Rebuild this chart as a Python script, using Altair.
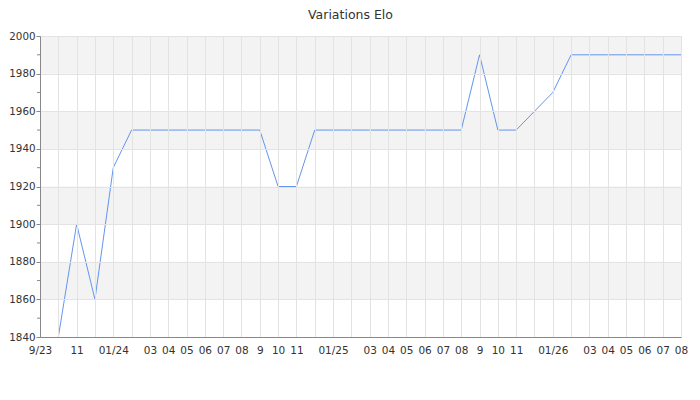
import json
import altair as alt
import pandas as pd

months = [
    "2023-09", "2023-10", "2023-11", "2023-12",
    "2024-01", "2024-02", "2024-03", "2024-04", "2024-05", "2024-06",
    "2024-07", "2024-08", "2024-09", "2024-10", "2024-11", "2024-12",
    "2025-01", "2025-02", "2025-03", "2025-04", "2025-05", "2025-06",
    "2025-07", "2025-08", "2025-09", "2025-10", "2025-11", "2025-12",
    "2026-01", "2026-02", "2026-03", "2026-04", "2026-05", "2026-06",
    "2026-07", "2026-08",
]
tick_labels = [
    "9/23", "", "11", "",
    "01/24", "", "03", "04", "05", "06", "07", "08", "9", "10", "11", "",
    "01/25", "", "03", "04", "05", "06", "07", "08", "9", "10", "11", "",
    "01/26", "", "03", "04", "05", "06", "07", "08",
]

elo_months = [
    "2023-10", "2023-11", "2023-12",
    "2024-01", "2024-02", "2024-03", "2024-04", "2024-05", "2024-06",
    "2024-07", "2024-08", "2024-09", "2024-10", "2024-11", "2024-12",
    "2025-01", "2025-02", "2025-03", "2025-04", "2025-05", "2025-06",
    "2025-07", "2025-08", "2025-09", "2025-10", "2025-11",
    "2026-01", "2026-02", "2026-03", "2026-04", "2026-05", "2026-06",
    "2026-07", "2026-08",
]
elo_values = [
    1840, 1900, 1860,
    1930, 1950, 1950, 1950, 1950, 1950,
    1950, 1950, 1950, 1920, 1920, 1950,
    1950, 1950, 1950, 1950, 1950, 1950,
    1950, 1950, 1990, 1950, 1950,
    1970, 1990, 1990, 1990, 1990, 1990,
    1990, 1990,
]

band_starts = [1860, 1900, 1940, 1980]
band_ends = [1880, 1920, 1960, 2000]
y_major = [1840, 1860, 1880, 1900, 1920, 1940, 1960, 1980, 2000]
y_minor = [1850, 1870, 1890, 1910, 1930, 1950, 1970, 1990]

df = pd.DataFrame({"month": elo_months, "elo": elo_values})
bands = pd.DataFrame({"y0": band_starts, "y1": band_ends})
minor = pd.DataFrame({"v": y_minor})

FONT = "DejaVu Sans"
label_expr = f"{json.dumps(tick_labels)}[indexof({json.dumps(months)}, datum.value)]"

yscale = alt.Scale(domain=[1840, 2000], nice=False, zero=False)
y_axis = alt.Axis(
    values=y_major,
    format="d",
    labelOverlap=False,
    labelFont=FONT,
    labelFontSize=10.3,
    labelColor="#333333",
    labelPadding=1,
    tickSize=4,
    tickColor="#888888",
    domainColor="#888888",
    grid=True,
    gridColor="#e3e3e3",
    zindex=1,
)

band_layer = alt.Chart(bands).mark_rect(color="#f3f3f3").encode(
    y=alt.Y("y0:Q", scale=yscale, title=None, axis=y_axis),
    y2="y1:Q",
)

minor_layer = alt.Chart(minor).mark_rule(color="#888888", strokeWidth=1).encode(
    y=alt.Y("v:Q", scale=yscale, title=None, axis=y_axis),
    x=alt.value(-3),
    x2=alt.value(0),
)

line_layer = alt.Chart(df).mark_line(color="#6495ed", strokeWidth=1).encode(
    x=alt.X(
        "month:O",
        scale=alt.Scale(type="point", domain=months, padding=0),
        sort=months,
        title=None,
        axis=alt.Axis(
            labelExpr=label_expr,
            labelAngle=0,
            labelOverlap=False,
            labelFont=FONT,
            labelFontSize=10.5,
            labelColor="#333333",
            labelPadding=8,
            tickSize=0,
            grid=True,
            gridColor="#e3e3e3",
            domainColor="#888888",
            zindex=1,
        ),
    ),
    y=alt.Y("elo:Q", scale=yscale, title=None, axis=y_axis),
)

chart = alt.layer(band_layer, minor_layer, line_layer).properties(
    width=641,
    height=301,
    autosize="none",
    padding={"left": 32, "top": 28, "right": 11, "bottom": 40},
    title=alt.TitleParams(
        "Variations Elo",
        font=FONT,
        fontSize=12.5,
        fontWeight="normal",
        color="#333333",
        anchor="middle",
        baseline="alphabetic",
        dx=-10,
        offset=0,
    ),
).configure_view(stroke=None)

chart.save("out.html", embed_options={"renderer": "svg", "actions": False})
